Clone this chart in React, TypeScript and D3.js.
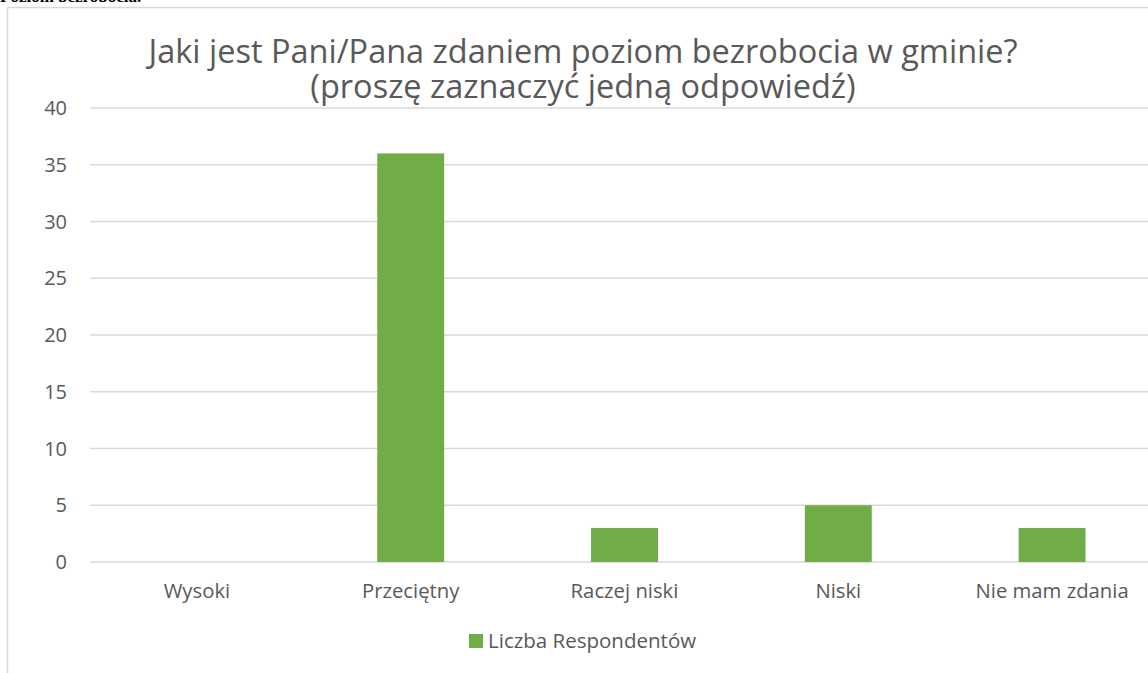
import React from "react";
import * as d3 from "d3";

const categories = ["Wysoki", "Przeciętny", "Raczej niski", "Niski", "Nie mam zdania"];
const values = [0, 36, 3, 5, 3];
const yTicks = [0, 5, 10, 15, 20, 25, 30, 35, 40];
const seriesName = "Liczba Respondentów";
const titleLines = ["Jaki jest Pani/Pana zdaniem poziom bezrobocia w gminie?", "(proszę zaznaczyć jedną odpowiedź)"];

const W = 1148;
const H = 673;
const FONT = "'Open Sans', 'Noto Sans', sans-serif";
const TXT = "#595959";
const GREEN = "#70ad47";
const GRID = "#d9d9d9";

export default function App() {
  const plotLeft = 90;
  const plotRight = 1159;
  const yTop = 108;
  const yBottom = 562;
  const x = d3.scaleBand<string>().domain(categories).range([plotLeft, plotRight]).paddingInner(0.687).paddingOuter(0.3435);
  const y = d3.scaleLinear().domain([0, 40]).range([yBottom, yTop]);
  const xb = d3.scaleBand<string>().domain(categories).range([plotLeft, plotRight]);

  return (
    <svg width={W} height={H} style={{ position: "absolute", left: 0, top: 0, display: "block", background: "#fff" }}>
      <text x={0} y={2} fontFamily="'Liberation Serif', serif" fontWeight="bold" fontSize={17} fill="#000">Poziom bezrobocia.</text>
      <rect x={7.5} y={7.5} width={1165} height={700} fill="#fff" stroke={GRID} strokeWidth={1.5} />
      {titleLines.map((t, i) => (
        <text key={i} x={583} y={63 + i * 35} textAnchor="middle" fontFamily={FONT} fontSize={32.5} fill={TXT}>{t}</text>
      ))}
      {yTicks.map((t) => (
        <g key={t}>
          <line x1={plotLeft} x2={plotRight} y1={y(t)} y2={y(t)} stroke={GRID} strokeWidth={1.3} />
          <text x={67} y={y(t)} dy="0.36em" textAnchor="end" fontFamily={FONT} fontSize={20} fill={TXT}>{t}</text>
        </g>
      ))}
      {categories.map((c, i) => (
        <g key={c}>
          {values[i] > 0 && (
            <rect x={x(c)} y={y(values[i])} width={x.bandwidth()} height={y(0) - y(values[i])} fill={GREEN} />
          )}
          <text x={(xb(c) ?? 0) + xb.bandwidth() / 2} y={598} textAnchor="middle" fontFamily={FONT} fontSize={20.3} fill={TXT}>{c}</text>
        </g>
      ))}
      <rect x={469} y={634} width={14} height={14} fill={GREEN} />
      <text x={488} y={648} fontFamily={FONT} fontSize={20.5} fill={TXT}>{seriesName}</text>
    </svg>
  );
}
